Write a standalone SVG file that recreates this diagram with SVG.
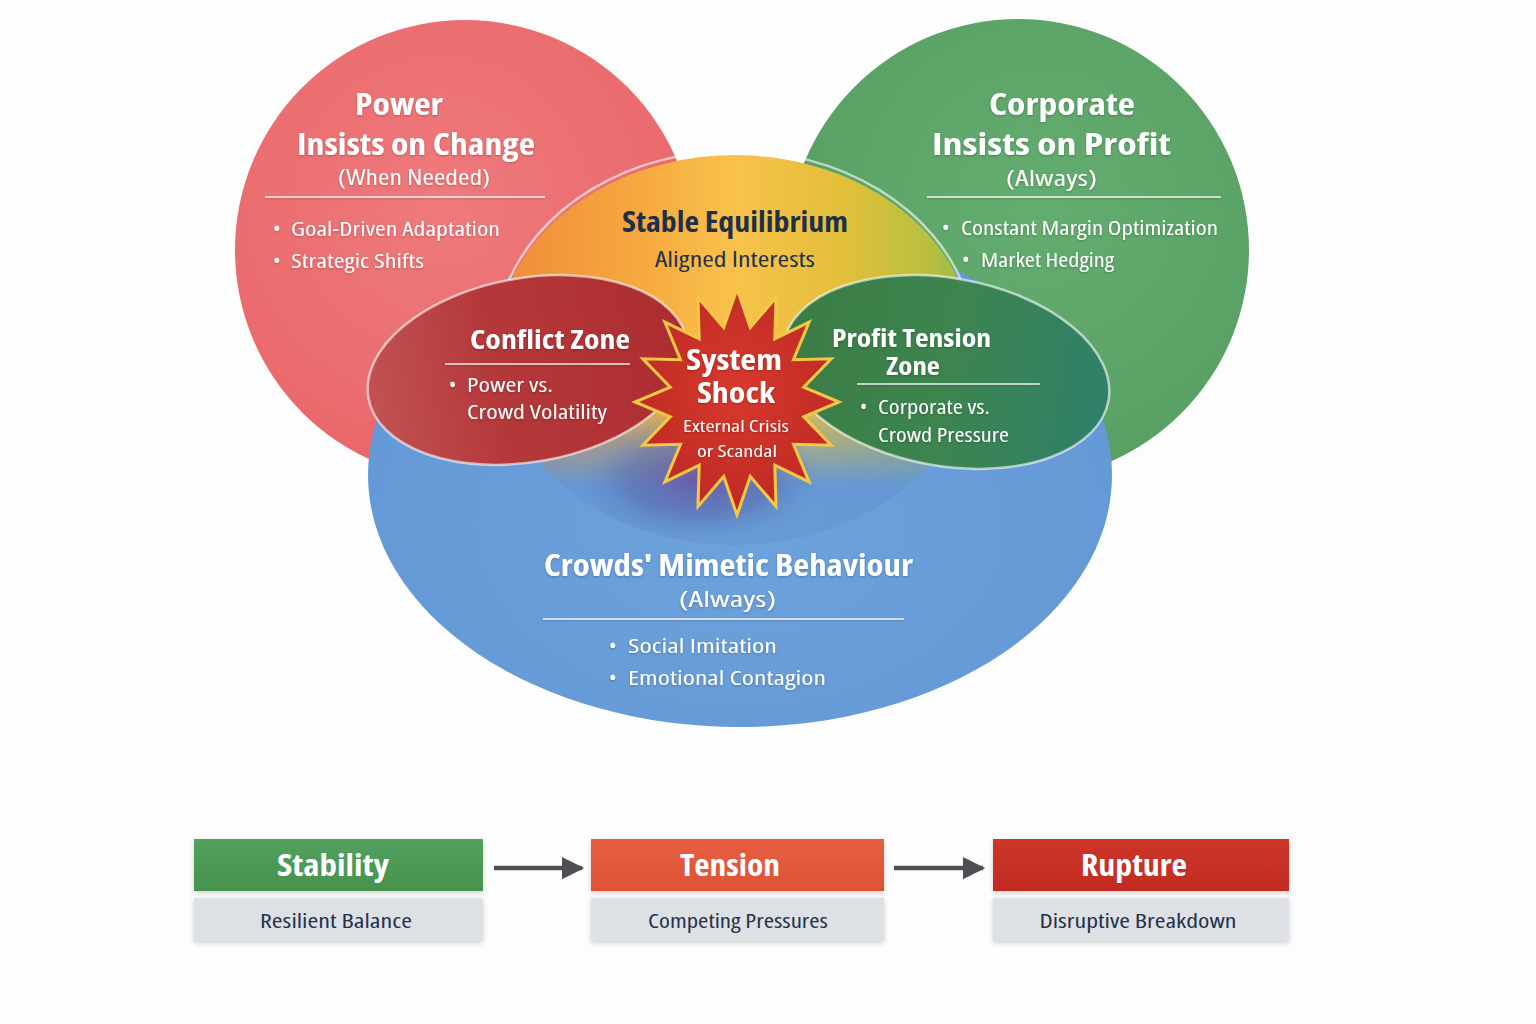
<svg xmlns="http://www.w3.org/2000/svg" width="1536" height="1024" viewBox="0 0 1536 1024">
<defs>
<style>
.t{font-family:"Open Sans","Liberation Sans",sans-serif;font-stretch:condensed;fill:#ffffff}
.b{font-weight:700}
.r{font-weight:400}
.dk{fill:#1f2f47}
.sub{fill:#25324a}
.edge{fill:none;stroke:#ffffff;stroke-opacity:0.6;stroke-width:2.5}
.rule{stroke:#ffffff;stroke-width:1.6;stroke-opacity:0.9}
.arrow{stroke:#4d4f52;stroke-width:4.5}
</style>
<radialGradient id="gRed" cx="0.45" cy="0.4" r="0.6"><stop offset="0" stop-color="#ef7a7c"/><stop offset="1" stop-color="#e9686a"/></radialGradient>
<radialGradient id="gGreen" cx="0.55" cy="0.4" r="0.6"><stop offset="0" stop-color="#64ad70"/><stop offset="1" stop-color="#589f63"/></radialGradient>
<radialGradient id="gBlue" cx="0.5" cy="0.6" r="0.6"><stop offset="0" stop-color="#6da2dc"/><stop offset="1" stop-color="#6398d6"/></radialGradient>
<linearGradient id="gYel" x1="0" y1="0" x2="1" y2="0"><stop offset="0" stop-color="#ef8a3a"/><stop offset="0.3" stop-color="#f6a83e"/><stop offset="0.5" stop-color="#f9c24c"/><stop offset="0.72" stop-color="#e3bf3a"/><stop offset="0.9" stop-color="#b9c041"/><stop offset="1" stop-color="#95b84a"/></linearGradient>
<linearGradient id="gFade" x1="0" y1="0" x2="0" y2="1"><stop offset="0" stop-color="#fff"/><stop offset="0.62" stop-color="#fff"/><stop offset="0.85" stop-color="#fff" stop-opacity="0"/></linearGradient>
<mask id="mYel" maskUnits="userSpaceOnUse" x="0" y="0" width="1536" height="1024"><ellipse cx="735" cy="350" rx="240" ry="195" fill="url(#gFade)"/></mask>
<linearGradient id="gConf" x1="0" y1="0" x2="1" y2="0"><stop offset="0" stop-color="#c25253"/><stop offset="0.4" stop-color="#b4383a"/><stop offset="1" stop-color="#ad2d2f"/></linearGradient>
<linearGradient id="gProf" x1="0" y1="0" x2="1" y2="0"><stop offset="0" stop-color="#3b7c45"/><stop offset="0.5" stop-color="#3d844f"/><stop offset="1" stop-color="#2f806a"/></linearGradient>
<radialGradient id="gPurple" cx="0.5" cy="0.5" r="0.5"><stop offset="0" stop-color="#6e4f9c" stop-opacity="0.85"/><stop offset="0.6" stop-color="#5a62a8" stop-opacity="0.5"/><stop offset="1" stop-color="#5a7fc0" stop-opacity="0"/></radialGradient>
<radialGradient id="gShock" cx="0.5" cy="0.45" r="0.55"><stop offset="0" stop-color="#d8392c"/><stop offset="1" stop-color="#bd2a24"/></radialGradient>
<linearGradient id="gStab" x1="0" y1="0" x2="0" y2="1"><stop offset="0" stop-color="#53a15e"/><stop offset="1" stop-color="#45934f"/></linearGradient>
<linearGradient id="gTens" x1="0" y1="0" x2="0" y2="1"><stop offset="0" stop-color="#e6603f"/><stop offset="1" stop-color="#de5236"/></linearGradient>
<linearGradient id="gRupt" x1="0" y1="0" x2="0" y2="1"><stop offset="0" stop-color="#cd3529"/><stop offset="1" stop-color="#c22b22"/></linearGradient>
<filter id="shadow" x="-10%" y="-20%" width="120%" height="150%"><feDropShadow dx="0" dy="2" stdDeviation="2.5" flood-color="#000" flood-opacity="0.18"/></filter>
<filter id="tsh" x="-10%" y="-20%" width="120%" height="150%"><feDropShadow dx="0" dy="1" stdDeviation="1" flood-color="#000" flood-opacity="0.25"/></filter>
<marker id="ah" viewBox="0 0 10 10" refX="9" refY="5" markerWidth="5" markerHeight="5.5" markerUnits="strokeWidth" orient="auto"><path d="M0,0 L10,5 L0,10 Z" fill="#4d4f52"/></marker>
</defs>
<rect width="1536" height="1024" fill="#fdfdfd"/>

<g id="power">
<circle cx="465" cy="250" r="230" fill="url(#gRed)"/>
</g>
<g id="corporate">
<circle cx="1018" cy="250" r="231" fill="url(#gGreen)"/>
</g>
<g id="crowds">
<ellipse cx="740" cy="475" rx="372" ry="252" fill="url(#gBlue)"/>
<ellipse cx="735" cy="350" rx="240" ry="195" fill="#3f6fb0" fill-opacity="0.12"/>
</g>
<g id="stable">
<ellipse cx="735" cy="350" rx="240" ry="195" fill="url(#gYel)" mask="url(#mYel)"/>
<path d="M 505,290 A 240 195 0 0 1 965,290" class="edge" stroke-opacity="0.5"/>
</g>
<ellipse cx="700" cy="478" rx="120" ry="62" fill="url(#gPurple)"/>
<g id="conflict">
<ellipse cx="528" cy="370" rx="162" ry="92" transform="rotate(-10 528 370)" fill="url(#gConf)"/>
<ellipse cx="528" cy="370" rx="162" ry="92" transform="rotate(-10 528 370)" class="edge"/>
</g>
<g id="profit">
<ellipse cx="946" cy="372" rx="165" ry="94" transform="rotate(10 946 372)" fill="url(#gProf)"/>
<ellipse cx="946" cy="372" rx="165" ry="94" transform="rotate(10 946 372)" class="edge" stroke="#f2f7d0"/>
</g>
<g id="shock">
<polygon points="737,289 750.3,327.5 776,297.6 774.8,338.8 809.1,322.1 793.5,359.8 831.2,358.8 803.7,387.2 839,402 803.7,416.8 831.2,445.2 793.5,444.2 809.1,481.9 774.8,465.2 776,506.4 750.3,476.5 737,515 723.7,476.5 698,506.4 699.2,465.2 664.9,481.9 680.5,444.2 642.8,445.2 670.3,416.8 635,402 670.3,387.2 642.8,358.8 680.5,359.8 664.9,322.1 699.2,338.8 698,297.6 723.7,327.5" fill="url(#gShock)" stroke="#f4c845" stroke-width="3" stroke-linejoin="miter"/>
</g>

<g id="power-text" filter="url(#tsh)">
<text x="399" y="115" class="t b" font-size="30" text-anchor="middle" textLength="88" lengthAdjust="spacingAndGlyphs">Power</text>
<text x="416" y="155" class="t b" font-size="30" text-anchor="middle" textLength="238" lengthAdjust="spacingAndGlyphs">Insists on Change</text>
<text x="414" y="185" class="t r" font-size="21" text-anchor="middle" textLength="152" lengthAdjust="spacingAndGlyphs">(When Needed)</text>
<line x1="265" y1="197" x2="545" y2="197" class="rule"/>
<text x="273" y="236" class="t r" font-size="20">•</text>
<text x="291" y="236" class="t r" font-size="20" textLength="209" lengthAdjust="spacingAndGlyphs">Goal-Driven Adaptation</text>
<text x="273" y="268" class="t r" font-size="20">•</text>
<text x="291" y="268" class="t r" font-size="20" textLength="133" lengthAdjust="spacingAndGlyphs">Strategic Shifts</text>
</g>
<g id="corporate-text" filter="url(#tsh)">
<text x="1062" y="115" class="t b" font-size="30" text-anchor="middle" textLength="146" lengthAdjust="spacingAndGlyphs">Corporate</text>
<text x="1051.5" y="155" class="t b" font-size="30" text-anchor="middle" textLength="239" lengthAdjust="spacingAndGlyphs">Insists on Profit</text>
<text x="1051.5" y="186" class="t r" font-size="21" text-anchor="middle" textLength="91" lengthAdjust="spacingAndGlyphs">(Always)</text>
<line x1="927" y1="197" x2="1221" y2="197" class="rule"/>
<text x="942" y="235" class="t r" font-size="20">•</text>
<text x="961" y="235" class="t r" font-size="20" textLength="257" lengthAdjust="spacingAndGlyphs">Constant Margin Optimization</text>
<text x="962" y="267" class="t r" font-size="20">•</text>
<text x="981" y="267" class="t r" font-size="20" textLength="133" lengthAdjust="spacingAndGlyphs">Market Hedging</text>
</g>
<g id="stable-text">
<text x="735" y="232" class="t b dk" font-size="28" text-anchor="middle" textLength="226" lengthAdjust="spacingAndGlyphs">Stable Equilibrium</text>
<text x="735" y="267" class="t r sub" font-size="21" text-anchor="middle" textLength="160" lengthAdjust="spacingAndGlyphs">Aligned Interests</text>
</g>
<g id="conflict-text" filter="url(#tsh)">
<text x="550" y="349" class="t b" font-size="27" text-anchor="middle" textLength="160" lengthAdjust="spacingAndGlyphs">Conflict Zone</text>
<line x1="445" y1="364" x2="630" y2="364" class="rule"/>
<text x="449" y="392" class="t r" font-size="19">•</text>
<text x="467" y="392" class="t r" font-size="19" textLength="86" lengthAdjust="spacingAndGlyphs">Power vs.</text>
<text x="467" y="419" class="t r" font-size="19" textLength="140" lengthAdjust="spacingAndGlyphs">Crowd Volatility</text>
</g>
<g id="profit-text" filter="url(#tsh)">
<text x="911.5" y="347" class="t b" font-size="25" text-anchor="middle" textLength="159" lengthAdjust="spacingAndGlyphs">Profit Tension</text>
<text x="913" y="375" class="t b" font-size="25" text-anchor="middle" textLength="54" lengthAdjust="spacingAndGlyphs">Zone</text>
<line x1="857" y1="384" x2="1040" y2="384" class="rule"/>
<text x="860" y="414" class="t r" font-size="19">•</text>
<text x="878" y="414" class="t r" font-size="19" textLength="112" lengthAdjust="spacingAndGlyphs">Corporate vs.</text>
<text x="878" y="442" class="t r" font-size="19" textLength="131" lengthAdjust="spacingAndGlyphs">Crowd Pressure</text>
</g>
<g id="shock-text" filter="url(#tsh)">
<text x="734" y="370" class="t b" font-size="28" text-anchor="middle" textLength="96" lengthAdjust="spacingAndGlyphs">System</text>
<text x="736" y="403" class="t b" font-size="28" text-anchor="middle" textLength="78" lengthAdjust="spacingAndGlyphs">Shock</text>
<text x="736" y="432" class="t r" font-size="17" text-anchor="middle" textLength="106" lengthAdjust="spacingAndGlyphs">External Crisis</text>
<text x="737" y="457" class="t r" font-size="17" text-anchor="middle" textLength="80" lengthAdjust="spacingAndGlyphs">or Scandal</text>
</g>
<g id="crowds-text" filter="url(#tsh)">
<text x="728.5" y="576" class="t b" font-size="30" text-anchor="middle" textLength="369" lengthAdjust="spacingAndGlyphs">Crowds' Mimetic Behaviour</text>
<text x="727.5" y="607" class="t r" font-size="22" text-anchor="middle" textLength="97" lengthAdjust="spacingAndGlyphs">(Always)</text>
<line x1="543" y1="619" x2="904" y2="619" class="rule"/>
<text x="609" y="653" class="t r" font-size="20">•</text>
<text x="628" y="653" class="t r" font-size="20" textLength="149" lengthAdjust="spacingAndGlyphs">Social Imitation</text>
<text x="609" y="685" class="t r" font-size="20">•</text>
<text x="628" y="685" class="t r" font-size="20" textLength="198" lengthAdjust="spacingAndGlyphs">Emotional Contagion</text>
</g>

<g id="stability">
<rect x="194" y="839" width="289" height="52" fill="url(#gStab)" filter="url(#shadow)"/>
<rect x="194" y="898" width="289" height="43" fill="#dde0e5" filter="url(#shadow)"/>
<text x="333" y="876" class="t b" font-size="30" text-anchor="middle" textLength="112" lengthAdjust="spacingAndGlyphs">Stability</text>
<text x="336" y="928" class="t r sub" font-size="20" text-anchor="middle" textLength="152" lengthAdjust="spacingAndGlyphs">Resilient Balance</text>
</g>
<g id="tension">
<rect x="591" y="839" width="293" height="52" fill="url(#gTens)" filter="url(#shadow)"/>
<rect x="591" y="898" width="293" height="43" fill="#dde0e5" filter="url(#shadow)"/>
<text x="730" y="876" class="t b" font-size="30" text-anchor="middle" textLength="100" lengthAdjust="spacingAndGlyphs">Tension</text>
<text x="738" y="928" class="t r sub" font-size="20" text-anchor="middle" textLength="180" lengthAdjust="spacingAndGlyphs">Competing Pressures</text>
</g>
<g id="rupture">
<rect x="993" y="839" width="296" height="52" fill="url(#gRupt)" filter="url(#shadow)"/>
<rect x="993" y="898" width="296" height="43" fill="#dde0e5" filter="url(#shadow)"/>
<text x="1134" y="876" class="t b" font-size="30" text-anchor="middle" textLength="106" lengthAdjust="spacingAndGlyphs">Rupture</text>
<text x="1138" y="928" class="t r sub" font-size="20" text-anchor="middle" textLength="197" lengthAdjust="spacingAndGlyphs">Disruptive Breakdown</text>
</g>
<g id="connectors">
<line x1="494" y1="868" x2="582" y2="868" class="arrow" marker-end="url(#ah)"/>
<line x1="894" y1="868" x2="983" y2="868" class="arrow" marker-end="url(#ah)"/>
</g>
</svg>
